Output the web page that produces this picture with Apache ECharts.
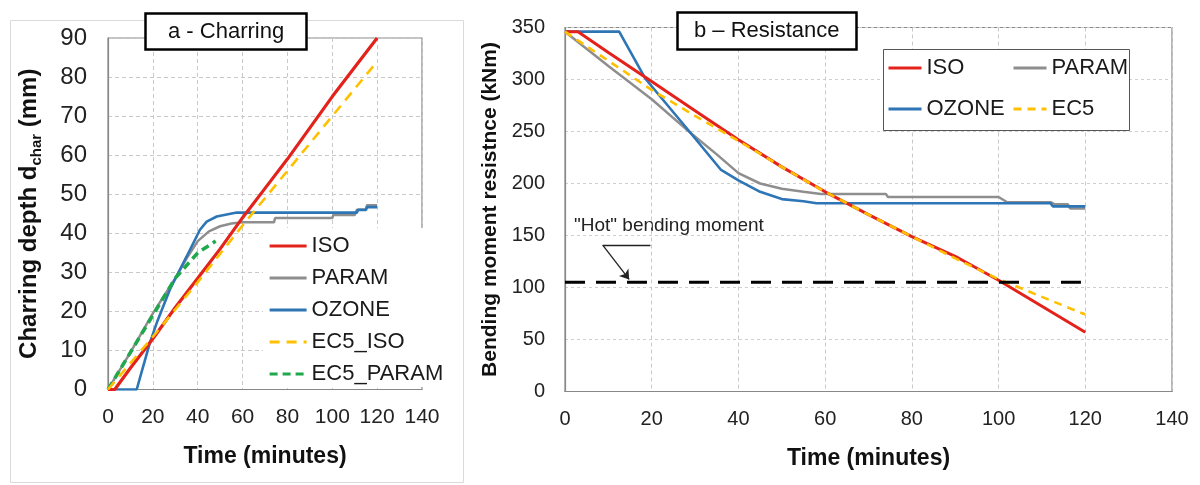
<!DOCTYPE html>
<html>
<head>
  <meta charset="utf-8">
  <style>
    html, body { margin: 0; height: 100%; background: #fff; }
    #container { width: 1200px; height: 485px; }
  </style>
</head>
<body>
  <div id="container"></div>
  <script src="https://cdn.jsdelivr.net/npm/echarts@6.0.0/dist/echarts.min.js"></script>
  <script>
    // a - Charring: [time (min), charring depth (mm)]
    var charIso = [[0, 0], [3, 0], [10, 5.5], [20, 13], [30, 21], [40, 28.5], [50, 36], [60, 44], [70, 51.5], [80, 59], [90, 67], [100, 75], [110, 82.5], [120, 90]];
    var charParam = [[0, 0], [10, 9.5], [20, 19.5], [30, 28.5], [35, 33.5], [40, 38], [45, 40.5], [50, 41.8], [55, 42.5], [60, 42.8], [74, 42.8], [74.5, 43.9], [100, 43.9], [100.5, 44.7], [110, 44.7], [111, 46], [115, 46], [115.5, 47.2], [120, 47.2]];
    var charOzone = [[0, 0], [12.8, 0], [15, 4.5], [18.7, 12], [22, 17.5], [27.6, 25.6], [35, 34], [41, 40.9], [44, 43], [48.5, 44.3], [57.4, 45.3], [111, 45.3], [111.5, 46], [115, 46], [115.5, 46.7], [120, 46.7]];
    var charEc5Iso = [[0, 0], [20, 13.5], [40, 27.5], [60, 42], [80, 56], [100, 70], [120, 84]];
    var charEc5Param = [[0, 0], [10, 9.5], [20, 19], [30, 28.5], [40, 35], [48, 38]];

    // b - Resistance: [time (min), bending moment resistance (kNm)]
    var resIso = [[0, 346], [3, 346], [10, 326], [20, 298], [30, 270], [40, 242], [50, 216], [60, 192], [70, 170], [80, 149], [90, 130], [100, 107], [110, 82], [120, 57]];
    var resParam = [[0, 346], [10, 313], [20, 281], [28, 252], [35, 228], [40, 210], [45, 200], [50, 195], [55, 192], [59, 190], [74, 190], [74.5, 187], [100, 187], [102, 182], [112, 182], [113, 180], [116, 180], [116.5, 176], [120, 176]];
    var resOzone = [[0, 346], [12.5, 346], [18.5, 301], [28.5, 251], [36, 213], [40, 203], [45, 192], [50, 185], [55, 183], [58, 181], [112, 181], [112.5, 178], [120, 178]];
    var resEc5 = [[0, 346], [10, 318], [20, 290], [30, 265], [40, 241], [50, 216], [60, 192], [70, 170], [80, 149], [90, 128], [100, 108], [110, 91], [120, 74]];
    var hotMoment = [[0, 105], [119, 105]];

    var legendA = ['ISO', 'PARAM', 'OZONE', 'EC5_ISO', 'EC5_PARAM'];
    var legendB1 = ['ISO', 'OZONE'];
    var legendB2 = ['PARAM', 'EC5'];

    var RED = '#E3221C', GRAY = '#8E8E8E', BLUE = '#2E75B6', GOLD = '#FFC000', GREEN = '#1FA84C';
    var FONT = 'Liberation Sans, Arial, sans-serif';

    var chart = echarts.init(document.getElementById('container'), null, { renderer: 'canvas' });

    function xAx(idx, margin, size) {
      return {
        type: 'value', gridIndex: idx, min: 0, max: 140, interval: 20,
        name: 'Time (minutes)', nameLocation: 'middle', nameGap: 56,
        nameTextStyle: { fontFamily: FONT, fontSize: 23, fontWeight: 'bold', color: '#111' },
        axisLine: { lineStyle: { color: '#888', width: 1.2 } },
        axisTick: { show: false },
        axisLabel: { margin: margin, fontFamily: FONT, fontSize: size, color: '#222' },
        splitLine: { lineStyle: { color: '#c9c9c9', type: [4, 3] } }
      };
    }

    function lineS(name, data, color, width, dash, xi) {
      return {
        name: name, type: 'line', data: data, xAxisIndex: xi, yAxisIndex: xi,
        showSymbol: false, symbol: 'none', animation: false,
        lineStyle: { color: color, width: width, type: dash || 'solid' },
        itemStyle: { color: color }
      };
    }

    // legend for panel b: two columns, border drawn as a graphic box
    function legB(data, left) {
      return {
        data: data, orient: 'vertical', left: left, top: 56, padding: 0,
        itemWidth: 33, itemHeight: 14, itemGap: 17, z: 6,
        itemStyle: { opacity: 0 }, lineStyle: { width: 3 },
        textStyle: { fontFamily: FONT, fontSize: 22, color: '#1a1a1a', lineHeight: 24 }
      };
    }

    var option = {
      animation: false,
      title: [
        {
          text: 'a - Charring', left: 145, top: 13, padding: [8, 23, 7, 23],
          borderColor: '#000', borderWidth: 2.5, backgroundColor: '#fff',
          textStyle: { fontFamily: FONT, fontSize: 22, fontWeight: 'normal', color: '#111' }
        },
        {
          text: 'b \u2013 Resistance', left: 677, top: 12, padding: [8, 17, 8, 17],
          borderColor: '#000', borderWidth: 2.5, backgroundColor: '#fff',
          textStyle: { fontFamily: FONT, fontSize: 22, fontWeight: 'normal', color: '#111' }
        }
      ],
      legend: [
        {
          data: legendA, orient: 'vertical', left: 263, top: 228,
          padding: [6, 10, 1, 5], itemWidth: 37, itemHeight: 14, itemGap: 8,
          backgroundColor: '#fff', itemStyle: { opacity: 0 }, lineStyle: { width: 3.2 },
          textStyle: { fontFamily: FONT, fontSize: 22, color: '#1a1a1a', lineHeight: 24 }
        },
        legB(legendB1, 887),
        legB(legendB2, 1012)
      ],
      grid: [
        { left: 108, top: 38, width: 314, height: 351.5, show: true, borderColor: '#888', borderWidth: 1.2, outerBoundsMode: 'none' },
        { left: 565, top: 27.5, width: 607, height: 364, show: true, borderColor: '#888', borderWidth: 1.2, outerBoundsMode: 'none' }
      ],
      xAxis: [xAx(0, 17, 21), xAx(1, 18, 20)],
      yAxis: [
        {
          type: 'value', gridIndex: 0, min: 0, max: 90, interval: 10,
          name: '{a|Charring depth d}{s|char}{a| (mm)}', nameLocation: 'middle', nameGap: 64,
          nameTextStyle: {
            fontFamily: FONT, fontSize: 24, fontWeight: 'bold', color: '#111',
            rich: {
              a: { fontFamily: FONT, fontSize: 24, fontWeight: 'bold', color: '#111', lineHeight: 30 },
              s: { fontFamily: FONT, fontSize: 15, fontWeight: 'bold', color: '#111', lineHeight: 12, verticalAlign: 'bottom' }
            }
          },
          axisLine: { show: true, lineStyle: { color: '#888', width: 1.2 } },
          axisTick: { show: false },
          axisLabel: { margin: 21, fontFamily: FONT, fontSize: 24, color: '#222' },
          splitLine: { lineStyle: { color: '#c9c9c9', type: [4, 3] } }
        },
        {
          type: 'value', gridIndex: 1, min: 0, max: 350, interval: 50,
          name: 'Bending moment resistnce (kNm)', nameLocation: 'middle', nameGap: 64,
          nameTextStyle: { fontFamily: FONT, fontSize: 21, fontWeight: 'bold', color: '#111' },
          axisLine: { show: true, lineStyle: { color: '#888', width: 1.2 } },
          axisTick: { show: false },
          axisLabel: { margin: 20, fontFamily: FONT, fontSize: 20, color: '#222' },
          splitLine: { lineStyle: { color: '#cfcfcf', type: [3, 3] } }
        }
      ],
      graphic: [
        {
          type: 'rect', left: 8, top: 18, z: -10, silent: true,
          shape: { width: 453, height: 462 },
          style: { fill: 'none', stroke: '#dadada', lineWidth: 1 }
        },
        {
          type: 'rect', left: 883, top: 49, z: 5, silent: true,
          shape: { width: 246, height: 81 },
          style: { fill: '#fff', stroke: '#555', lineWidth: 1 }
        },
        {
          type: 'text', left: 574, top: 216, silent: true,
          style: { text: '"Hot" bending moment', fontFamily: FONT, fontSize: 19, fill: '#222' }
        }
      ],
      series: [
        lineS('PARAM', charParam, GRAY, 2.5, null, 0),
        lineS('OZONE', charOzone, BLUE, 2.6, null, 0),
        lineS('EC5_PARAM', charEc5Param, GREEN, 3.5, [8, 5], 0),
        lineS('ISO', charIso, RED, 3.2, null, 0),
        lineS('EC5_ISO', charEc5Iso, GOLD, 2.6, [10, 7], 0),

        lineS('PARAM', resParam, GRAY, 2.5, null, 1),
        lineS('OZONE', resOzone, BLUE, 2.6, null, 1),
        lineS('ISO', resIso, RED, 3, null, 1),
        lineS('EC5', resEc5, GOLD, 2.6, [8, 6], 1),
        {
          name: 'Hot', type: 'line', data: hotMoment, xAxisIndex: 1, yAxisIndex: 1,
          showSymbol: false, symbol: 'none',
          lineStyle: { color: '#000', width: 3, type: [20, 11] },
          markLine: {
            silent: true, animation: false, label: { show: false },
            lineStyle: { color: '#222', width: 1.3, type: 'solid' },
            data: [
              [{ coord: [8.7, 140.7], symbol: 'none' }, { coord: [19.7, 140.7], symbol: 'none' }],
              [{ coord: [8.7, 140.7], symbol: 'none' }, { coord: [14.8, 107.8], symbol: 'arrow', symbolSize: 9 }]
            ]
          }
        }
      ]
    };

    chart.setOption(option);
    window.addEventListener('resize', chart.resize);
  </script>
</body>
</html>
